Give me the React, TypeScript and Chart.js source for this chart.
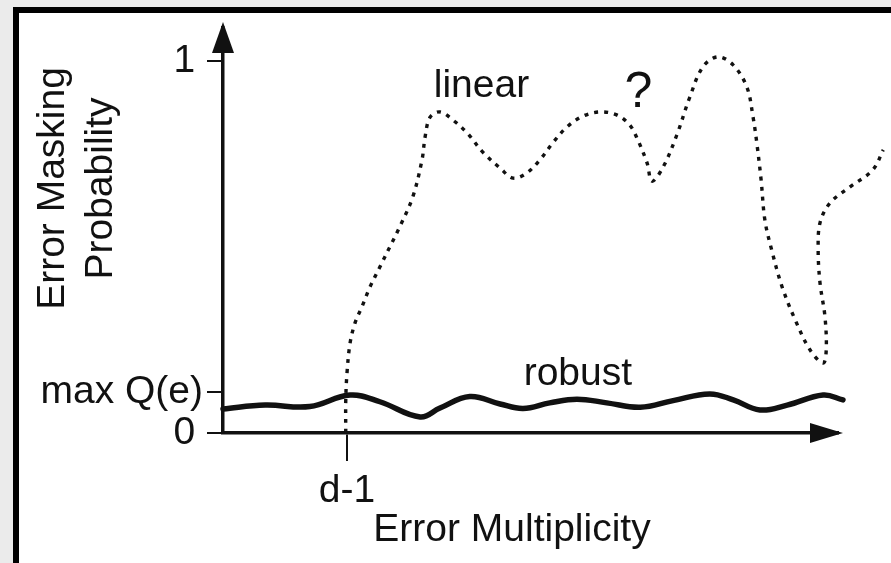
import React, { useEffect, useRef } from 'react';
import { Chart, registerables } from 'chart.js';

Chart.register(...registerables);

// Error multiplicity (arbitrary units along the horizontal axis)
const linearX = [
  19.8, 19.8, 20.0, 20.5, 21.3, 22.4, 23.7, 25.3, 26.9, 28.5,
  30.6, 32.1, 32.6, 33.4, 35.0, 37.1, 39.4, 41.9, 44.7, 46.8,
  49.0, 51.1, 53.2, 55.5, 58.1, 60.8, 63.5, 65.6, 66.9, 68.4,
  69.2, 71.0, 73.2, 75.3, 77.4, 79.8, 82.3, 84.5, 85.5, 86.1,
  86.8, 87.4, 88.5, 90.2, 92.3, 94.7, 96.8, 97.3, 97.1, 96.3,
  96.0, 96.3, 97.9, 101.1, 104.8, 106.5,
];
// Error masking probability of a linear code
const linearY = [
  0, 0.089, 0.161, 0.242, 0.296, 0.339, 0.392, 0.446, 0.5, 0.554,
  0.634, 0.734, 0.796, 0.849, 0.863, 0.841, 0.806, 0.755, 0.712, 0.685,
  0.699, 0.734, 0.78, 0.823, 0.852, 0.863, 0.855, 0.828, 0.788, 0.726,
  0.677, 0.715, 0.801, 0.903, 0.984, 1.011, 0.989, 0.93, 0.849, 0.78,
  0.68, 0.573, 0.492, 0.392, 0.304, 0.223, 0.188, 0.223, 0.312, 0.403,
  0.492, 0.565, 0.618, 0.661, 0.707, 0.761,
];

const robustX = [
  0, 6.8, 14.0, 20.5, 25.3, 31.8, 35.0, 39.8, 44.7, 48.4, 52.7,
  57.1, 61.9, 67.3, 72.6, 78.5, 82.3, 86.6, 91.0, 96.8, 100,
];
// Error masking probability of a robust code (bounded by max Q(e))
const robustY = [
  0.0645, 0.075, 0.071, 0.102, 0.084, 0.043, 0.067, 0.098, 0.078, 0.066, 0.081,
  0.091, 0.081, 0.069, 0.087, 0.105, 0.089, 0.062, 0.075, 0.102, 0.089,
];

const yTickValues = [0, 0.11, 1];
const yTickLabels = ['0\u2009', 'max Q(e)', '1\u2009'];
const xTickValues = [20];
const xTickLabels = ['d-1'];

const xMax = 99.2;
const yMax = 1.09;

const INK = '#111111';
const FONT_FAMILY = "'Liberation Sans', Arial, Helvetica, sans-serif";
const FONT_SIZE = 39;

// Text drawn next to the curves, anchored in data units
const curveNotes = [
  { text: 'linear', x: 34.0, y: 0.903, size: FONT_SIZE, align: 'left' as CanvasTextAlign },
  { text: '?', x: 67.0, y: 0.876, size: 50, align: 'center' as CanvasTextAlign },
  { text: 'robust', x: 48.5, y: 0.129, size: FONT_SIZE, align: 'left' as CanvasTextAlign },
];

const yTitleLines = ['Error Masking', 'Probability'];
const xTitle = 'Error Multiplicity';

const diagramDecor = {
  id: 'diagramDecor',
  afterDraw(chart: any) {
    const { ctx, chartArea } = chart;
    const xs = chart.scales.x;
    const ys = chart.scales.y;
    const { left, right, top, bottom } = chartArea;
    ctx.save();
    ctx.fillStyle = INK;

    // arrowhead on the vertical axis
    ctx.beginPath();
    ctx.moveTo(left, top - 5.5);
    ctx.lineTo(left + 11, top + 25.5);
    ctx.lineTo(left - 11, top + 25.5);
    ctx.closePath();
    ctx.fill();

    // arrowhead on the horizontal axis
    ctx.beginPath();
    ctx.moveTo(right + 5, bottom);
    ctx.lineTo(right - 28, bottom - 10);
    ctx.lineTo(right - 28, bottom + 10);
    ctx.closePath();
    ctx.fill();

    // curve notes
    ctx.textBaseline = 'alphabetic';
    for (const n of curveNotes) {
      ctx.font = `${n.size}px ${FONT_FAMILY}`;
      ctx.textAlign = n.align;
      ctx.fillText(n.text, xs.getPixelForValue(n.x), ys.getPixelForValue(n.y));
    }

    // horizontal axis title
    ctx.font = `${FONT_SIZE}px ${FONT_FAMILY}`;
    ctx.textAlign = 'center';
    ctx.fillText(xTitle, left + 289, bottom + 108);

    // vertical axis title, two lines
    const baselines = [64, 112];
    yTitleLines.forEach((line, i) => {
      ctx.save();
      ctx.translate(baselines[i], top + 161);
      ctx.rotate(-Math.PI / 2);
      ctx.textAlign = 'center';
      ctx.fillText(line, 0, 0);
      ctx.restore();
    });

    ctx.restore();
  },
};

export default function App() {
  const canvasRef = useRef<HTMLCanvasElement>(null);

  useEffect(() => {
    const canvas = canvasRef.current;
    if (!canvas) return;
    const tickFont = { family: FONT_FAMILY, size: FONT_SIZE };

    const chart = new Chart(canvas, {
      type: 'line',
      data: {
        datasets: [
          {
            label: 'linear',
            data: linearX.map((x, i) => ({ x, y: linearY[i] })),
            borderColor: INK,
            borderWidth: 3.4,
            borderDash: [4, 6],
            borderCapStyle: 'butt',
            tension: 0.35,
            pointRadius: 0,
            fill: false,
            clip: false as any,
          },
          {
            label: 'robust',
            data: robustX.map((x, i) => ({ x, y: robustY[i] })),
            borderColor: INK,
            borderWidth: 5.5,
            borderCapStyle: 'round',
            tension: 0.4,
            pointRadius: 0,
            fill: false,
            clip: false as any,
          },
        ],
      },
      options: {
        animation: false,
        responsive: false,
        maintainAspectRatio: false,
        events: [],
        layout: { padding: { top: 27.5, right: 53, bottom: 0, left: 0 } },
        elements: { line: { capBezierPoints: false } },
        plugins: {
          legend: { display: false },
          tooltip: { enabled: false },
          title: { display: false },
        },
        scales: {
          x: {
            type: 'linear',
            position: 'bottom',
            min: 0,
            max: xMax,
            afterFit: (s: any) => {
              s.height = 130;
            },
            afterBuildTicks: (s: any) => {
              s.ticks = xTickValues.map((v) => ({ value: v }));
            },
            ticks: {
              autoSkip: false,
              maxRotation: 0,
              padding: 7,
              color: INK,
              font: tickFont,
              callback: (_v: any, i: number) => xTickLabels[i] ?? '',
            },
            grid: {
              drawOnChartArea: false,
              drawTicks: true,
              tickLength: 28,
              color: INK,
              lineWidth: 2,
            },
            border: { display: true, color: INK, width: 3.5 },
          },
          y: {
            type: 'linear',
            position: 'left',
            min: 0,
            max: yMax,
            afterFit: (s: any) => {
              s.width = 223;
            },
            afterBuildTicks: (s: any) => {
              s.ticks = yTickValues.map((v) => ({ value: v }));
            },
            ticks: {
              autoSkip: false,
              padding: 4,
              color: INK,
              font: tickFont,
              callback: (_v: any, i: number) => yTickLabels[i] ?? '',
            },
            grid: {
              drawOnChartArea: false,
              drawTicks: true,
              tickLength: 16,
              color: INK,
              lineWidth: 2,
            },
            border: { display: true, color: INK, width: 3.5 },
          },
        },
      },
      plugins: [diagramDecor],
    });

    return () => chart.destroy();
  }, []);

  return (
    <div
      style={{
        position: 'absolute',
        left: 0,
        top: 0,
        width: 891,
        height: 563,
        overflow: 'hidden',
        background: '#ebebeb',
      }}
    >
      <div
        style={{
          position: 'absolute',
          left: 13,
          top: 7,
          width: 900,
          height: 580,
          border: '6px solid #000',
          background: '#fff',
          boxSizing: 'border-box',
        }}
      />
      <canvas
        ref={canvasRef}
        width={891}
        height={563}
        style={{ position: 'absolute', left: 0, top: 0, width: 891, height: 563 }}
      />
    </div>
  );
}
